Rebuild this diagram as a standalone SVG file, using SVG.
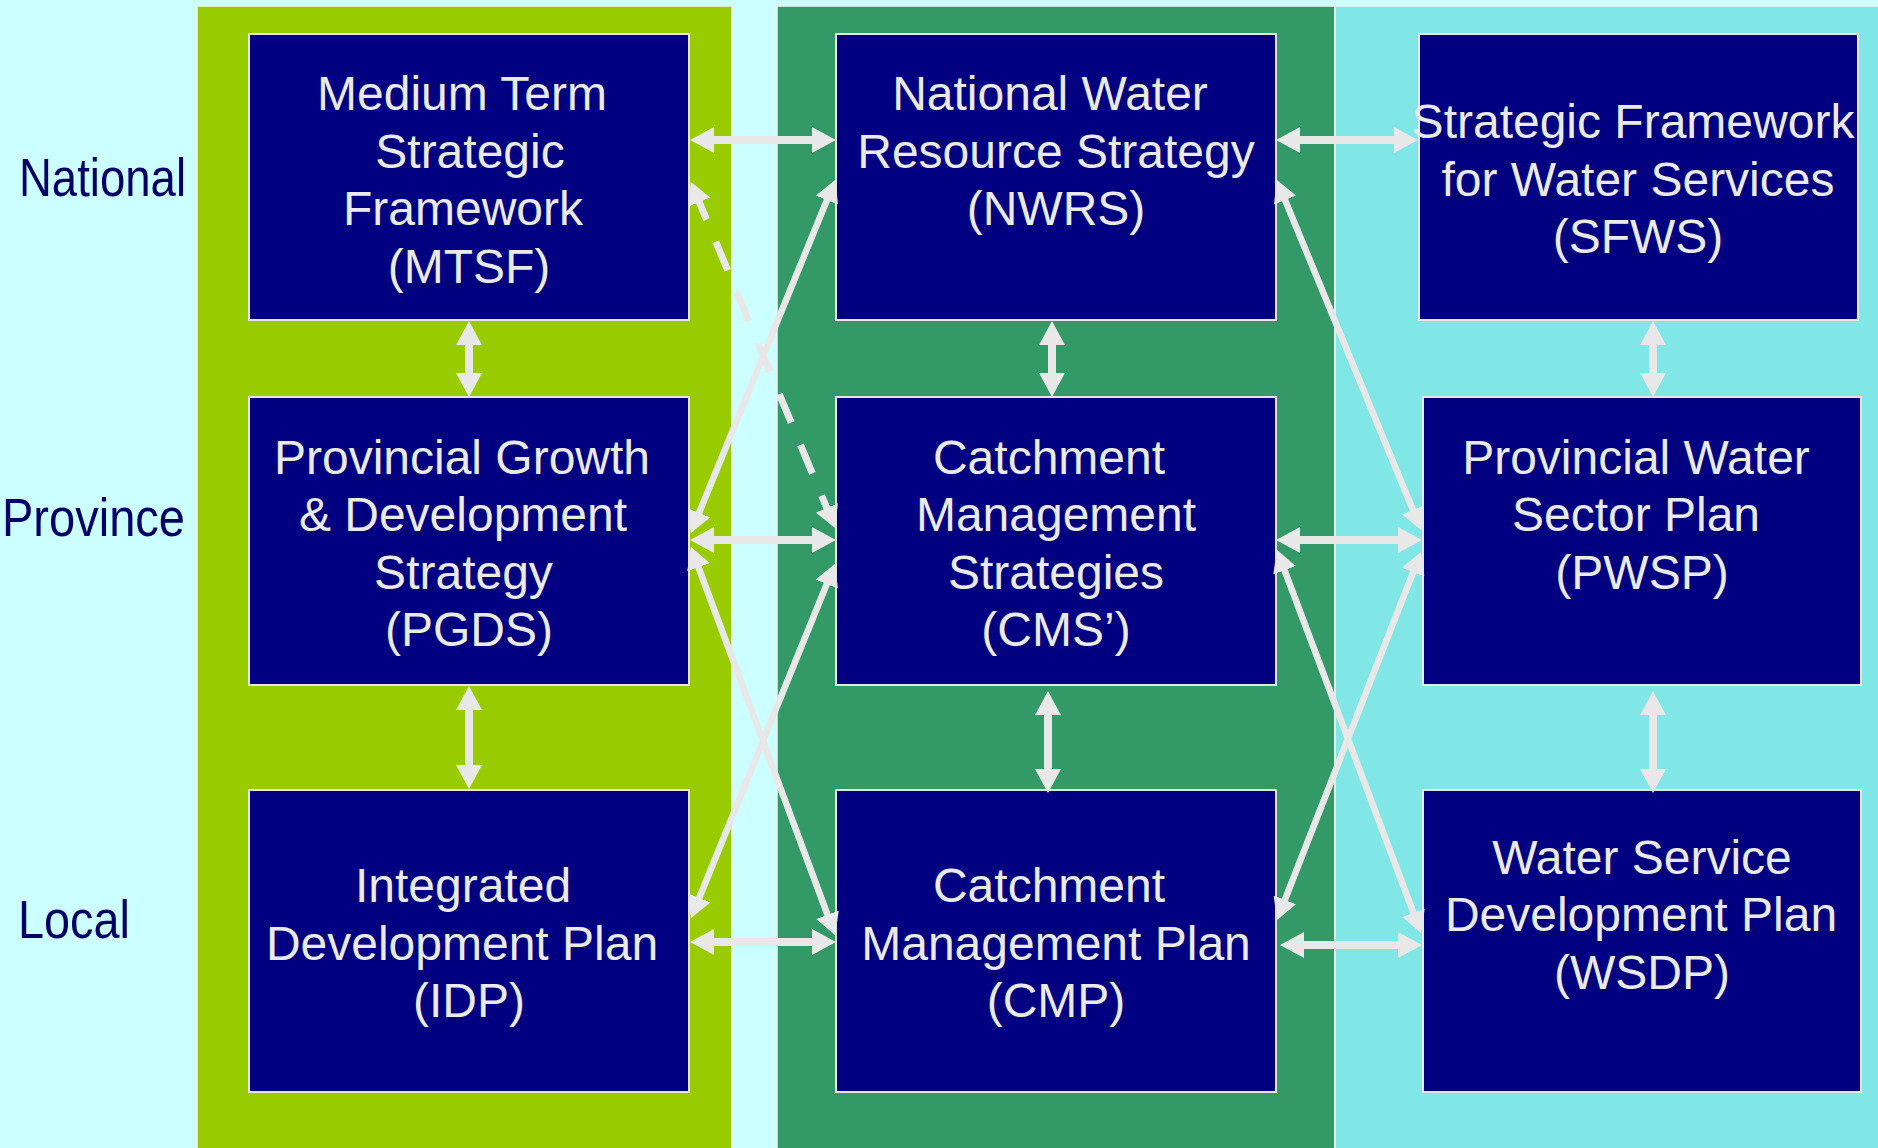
<svg xmlns="http://www.w3.org/2000/svg" width="1878" height="1148" viewBox="0 0 1878 1148">
<style>
.col{stroke:#EEF5F0;stroke-width:1.5}
.box{fill:#000080;stroke:#E6E6E6;stroke-width:2}
.bt{font-family:"Liberation Sans",Arial,sans-serif;font-size:48px;fill:#EAEAEA;text-anchor:middle}
.lvl{font-family:"Liberation Sans",Arial,sans-serif;font-size:54px;fill:#000066}
.h{stroke:#E8E8E8;stroke-width:8;fill:none;marker-start:url(#ah);marker-end:url(#ah)}
.d{stroke:#E8E8E8;stroke-width:6.5;fill:none;marker-start:url(#ad);marker-end:url(#ad)}
.dash{stroke-dasharray:31 24;stroke-width:7}
</style>
<defs>
<marker id="ah" viewBox="0 0 24 26" refX="14" refY="13" markerWidth="24" markerHeight="26" markerUnits="userSpaceOnUse" orient="auto-start-reverse">
<path d="M0,0 L24,13 L0,26 z" fill="#E8E8E8"/>
</marker>
<marker id="ad" viewBox="0 0 22 24" refX="12" refY="12" markerWidth="22" markerHeight="24" markerUnits="userSpaceOnUse" orient="auto-start-reverse">
<path d="M0,0 L22,12 L0,24 z" fill="#E8E8E8"/>
</marker>
</defs>
<rect x="0" y="0" width="1878" height="1148" fill="#CCFFFF"/>
<g id="columns">
<rect class="col" x="197" y="6" width="535" height="1150" fill="#99CC00"/>
<rect class="col" x="777" y="6" width="558" height="1150" fill="#339966"/>
<rect class="col" x="1335" y="6" width="545" height="1150" fill="#80E6E6"/>
</g>
<g id="levels">
<text class="lvl" x="19" y="196" textLength="167" lengthAdjust="spacingAndGlyphs">National</text>
<text class="lvl" x="2" y="536" textLength="183" lengthAdjust="spacingAndGlyphs">Province</text>
<text class="lvl" x="18" y="938" textLength="112" lengthAdjust="spacingAndGlyphs">Local</text>
</g>
<g id="mtsf">
<rect class="box" x="249" y="34" width="440" height="286"/>
<text class="bt"><tspan x="462" y="110">Medium Term</tspan><tspan x="470" y="167.5">Strategic</tspan><tspan x="463" y="225">Framework</tspan><tspan x="469" y="282.5">(MTSF)</tspan></text>
</g>
<g id="nwrs">
<rect class="box" x="836" y="34" width="440" height="286"/>
<text class="bt"><tspan x="1050" y="110">National Water</tspan><tspan x="1056" y="167.5">Resource Strategy</tspan><tspan x="1056" y="225">(NWRS)</tspan></text>
</g>
<g id="sfws">
<rect class="box" x="1419" y="34" width="439" height="286"/>
<text class="bt"><tspan x="1633" y="138">Strategic Framework</tspan><tspan x="1638" y="196">for Water Services</tspan><tspan x="1638" y="253">(SFWS)</tspan></text>
</g>
<g id="pgds">
<rect class="box" x="249" y="397" width="440" height="288"/>
<text class="bt"><tspan x="462" y="473.5">Provincial Growth</tspan><tspan x="463" y="531">&amp; Development</tspan><tspan x="463.5" y="589">Strategy</tspan><tspan x="469" y="646">(PGDS)</tspan></text>
</g>
<g id="cms">
<rect class="box" x="836" y="397" width="440" height="288"/>
<text class="bt"><tspan x="1049" y="473.5">Catchment</tspan><tspan x="1056" y="531">Management</tspan><tspan x="1056" y="589">Strategies</tspan><tspan x="1056" y="646">(CMS’)</tspan></text>
</g>
<g id="pwsp">
<rect class="box" x="1423" y="397" width="438" height="288"/>
<text class="bt"><tspan x="1636" y="473.5">Provincial Water</tspan><tspan x="1636" y="531">Sector Plan</tspan><tspan x="1642" y="589">(PWSP)</tspan></text>
</g>
<g id="idp">
<rect class="box" x="249" y="790" width="440" height="302"/>
<text class="bt"><tspan x="463" y="902">Integrated</tspan><tspan x="462" y="960">Development Plan</tspan><tspan x="469" y="1017">(IDP)</tspan></text>
</g>
<g id="cmp">
<rect class="box" x="836" y="790" width="440" height="302"/>
<text class="bt"><tspan x="1049" y="902">Catchment</tspan><tspan x="1056" y="960">Management Plan</tspan><tspan x="1056" y="1017">(CMP)</tspan></text>
</g>
<g id="wsdp">
<rect class="box" x="1423" y="790" width="438" height="302"/>
<text class="bt"><tspan x="1642" y="873.5">Water Service</tspan><tspan x="1641" y="931">Development Plan</tspan><tspan x="1642" y="989">(WSDP)</tspan></text>
</g>
<g id="connectors">
<line class="h" x1="700" y1="140" x2="826" y2="140"/>
<line class="h" x1="1286" y1="140" x2="1408" y2="140"/>
<line class="h" x1="700" y1="540" x2="826" y2="540"/>
<line class="h" x1="1286" y1="540" x2="1412" y2="540"/>
<line class="h" x1="700" y1="942" x2="826" y2="942"/>
<line class="h" x1="1290" y1="945" x2="1412" y2="945"/>
<line class="h" x1="469" y1="331" x2="469" y2="387"/>
<line class="h" x1="469" y1="696" x2="469" y2="779"/>
<line class="h" x1="1052" y1="331" x2="1052" y2="387"/>
<line class="h" x1="1048" y1="701" x2="1048" y2="783"/>
<line class="h" x1="1653" y1="331" x2="1653" y2="387"/>
<line class="h" x1="1653" y1="701" x2="1653" y2="783"/>
<line class="d dash" x1="694.6" y1="191" x2="831.4" y2="519"/>
<line class="d" x1="831.5" y1="189" x2="694.5" y2="524"/>
<line class="d" x1="694.3" y1="556" x2="831.7" y2="926"/>
<line class="d" x1="831.3" y1="573" x2="694.7" y2="909"/>
<line class="d" x1="1280.5" y1="189" x2="1417.5" y2="521"/>
<line class="d" x1="1280.3" y1="559" x2="1417.7" y2="924"/>
<line class="d" x1="1417.5" y1="561" x2="1280.5" y2="911"/>
</g>
</svg>
